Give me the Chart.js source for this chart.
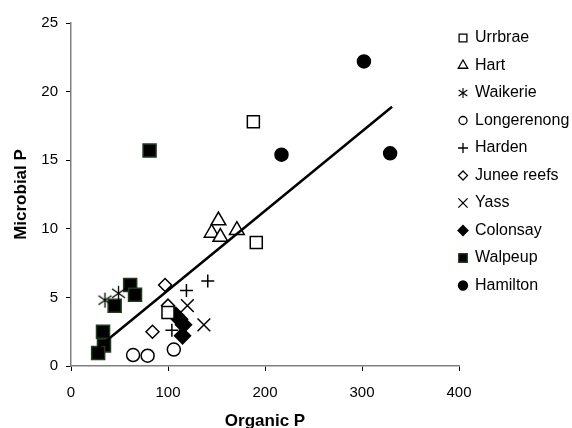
<!DOCTYPE html>
<html>
<head>
<meta charset="utf-8">
<script src="https://cdn.jsdelivr.net/npm/chart.js@4/dist/chart.umd.min.js"></script>
<style>
  html, body { margin: 0; padding: 0; background: #fff; }
</style>
</head>
<body>
<canvas id="chart" width="572" height="428"></canvas>
<script>
// Sites, in legend order
const sites = ['Urrbrae', 'Hart', 'Waikerie', 'Longerenong', 'Harden', 'Junee reefs', 'Yass', 'Colonsay', 'Walpeup', 'Hamilton'];

// Organic P (x) and Microbial P (y), one pair of arrays per site
const urrbraeX = [188, 191, 100];
const urrbraeY = [17.8, 9.0, 3.9];
const hartX = [152, 145, 154, 171];
const hartY = [10.6, 9.7, 9.4, 9.9];
const waikerieX = [35, 49];
const waikerieY = [4.8, 5.3];
const longerenongX = [64, 79, 106];
const longerenongY = [0.8, 0.75, 1.2];
const hardenX = [141, 119, 104];
const hardenY = [6.2, 5.5, 2.6];
const juneeX = [97, 100, 84];
const juneeY = [5.9, 4.4, 2.5];
const yassX = [120, 137];
const yassY = [4.4, 3.0];
const colonsayX = [108, 112, 116, 115];
const colonsayY = [3.7, 3.4, 3.0, 2.2];
const walpeupX = [81, 61, 66, 45, 33, 34, 28];
const walpeupY = [15.7, 5.9, 5.2, 4.4, 2.5, 1.5, 0.95];
const hamiltonX = [302, 217, 329];
const hamiltonY = [22.2, 15.4, 15.5];

// Linear trend line, ends
const trendX = [28, 331];
const trendY = [1.35, 18.9];

// Axis ticks
const xTicks = [0, 100, 200, 300, 400];
const yTicks = [0, 5, 10, 15, 20, 25];

const FONT = "'Liberation Sans', Arial, sans-serif";
Chart.defaults.font.family = FONT;
Chart.defaults.color = '#000';

// Asterisk marker (x with a vertical bar), drawn on a small canvas
function asterisk(size, lw) {
    const c = document.createElement('canvas');
    c.width = size; c.height = size;
    const g = c.getContext('2d');
    const m = size / 2, r = size / 2 - 1;
    g.strokeStyle = '#000';
    g.lineWidth = lw;
    g.beginPath();
    g.moveTo(m, m - r); g.lineTo(m, m + r);
    g.moveTo(m - r * 0.87, m - r * 0.6); g.lineTo(m + r * 0.87, m + r * 0.6);
    g.moveTo(m - r * 0.87, m + r * 0.6); g.lineTo(m + r * 0.87, m - r * 0.6);
    g.stroke();
    return c;
}
const starBig = asterisk(17, 1.3);
const starSmall = asterisk(12, 1.1);

function pts(xs, ys) {
    return xs.map((x, i) => ({ x: x, y: ys[i] }));
}

// marker styles per site: [pointStyle, radius, fill, border, legend radius]
const styles = [
    ['rect', 8.5, '#fff', '#000', 5.5],
    ['triangle', 8.5, '#fff', '#000', 5.5],
    [starBig, 8, '#000', '#000', 5],
    ['circle', 6.5, '#fff', '#000', 4],
    ['cross', 6.5, '#000', '#000', 5],
    ['rectRot', 6.5, '#fff', '#000', 4.5],
    ['crossRot', 9, '#000', '#000', 6.5],
    ['rectRot', 8, '#000', '#000', 5],
    ['rect', 9.2, '#000', '#1f3a1f', 6],
    ['circle', 6.5, '#000', '#000', 4.5]
];
const siteData = [
    pts(urrbraeX, urrbraeY), pts(hartX, hartY), pts(waikerieX, waikerieY),
    pts(longerenongX, longerenongY), pts(hardenX, hardenY), pts(juneeX, juneeY),
    pts(yassX, yassY), pts(colonsayX, colonsayY), pts(walpeupX, walpeupY),
    pts(hamiltonX, hamiltonY)
];

const datasets = [{
    type: 'line',
    label: 'trend',
    data: pts(trendX, trendY),
    borderColor: '#000',
    borderWidth: 2.5,
    pointRadius: 0,
    fill: false
}];
sites.forEach((name, i) => {
    const s = styles[i];
    datasets.push({
        label: name,
        data: siteData[i],
        pointStyle: s[0],
        pointRadius: s[1],
        pointBackgroundColor: s[2],
        pointBorderColor: s[3],
        pointBorderWidth: 1.5
    });
});

// Legend on the right, drawn with Chart.js point helper
const sideLegend = {
    id: 'sideLegend',
    afterDraw(chart) {
        const ctx = chart.ctx;
        ctx.save();
        sites.forEach((name, i) => {
            const s = styles[i];
            const y = 38 + i * 27.5;
            ctx.fillStyle = s[2];
            ctx.strokeStyle = s[3];
            ctx.lineWidth = 1.3;
            const style = s[0] === starBig ? starSmall : s[0];
            Chart.helpers.drawPoint(ctx, { pointStyle: style, radius: s[4], rotation: 0, borderWidth: 1.3 }, 463, y);
            ctx.fillStyle = '#000';
            ctx.font = '16px ' + FONT;
            ctx.textBaseline = 'middle';
            ctx.textAlign = 'left';
            ctx.fillText(name, 475, y);
        });
        ctx.restore();
    }
};

new Chart(document.getElementById('chart'), {
    type: 'scatter',
    data: { datasets: datasets },
    options: {
        responsive: false,
        animation: false,
        devicePixelRatio: 1,
        events: [],
        layout: { padding: { left: 0, right: 113, top: 23, bottom: 0 } },
        plugins: {
            legend: { display: false },
            tooltip: { enabled: false }
        },
        scales: {
            x: {
                type: 'linear',
                min: xTicks[0],
                max: xTicks[xTicks.length - 1],
                afterBuildTicks: s => { s.ticks = xTicks.map(v => ({ value: v })); },
                ticks: { font: { size: 15 }, padding: 13, maxRotation: 0 },
                grid: { drawOnChartArea: false, drawTicks: true, tickLength: 5, color: '#000' },
                border: { color: '#808080', width: 1.5 },
                title: { display: true, text: 'Organic P', font: { size: 17, weight: 'bold' }, padding: { top: 0, bottom: -3.5 } },
                afterFit: s => { s.height = 62; }
            },
            y: {
                type: 'linear',
                min: yTicks[0],
                max: yTicks[yTicks.length - 1],
                afterBuildTicks: s => { s.ticks = yTicks.map(v => ({ value: v })); },
                ticks: { font: { size: 15 }, padding: 8 },
                grid: { drawOnChartArea: false, drawTicks: true, tickLength: 5, color: '#000' },
                border: { color: '#808080', width: 1.5 },
                title: { display: true, text: 'Microbial P', font: { size: 17, weight: 'bold' }, padding: { top: 11, bottom: 0 } },
                afterFit: s => { s.width = 71; }
            }
        }
    },
    plugins: [sideLegend]
});
</script>
</body>
</html>
